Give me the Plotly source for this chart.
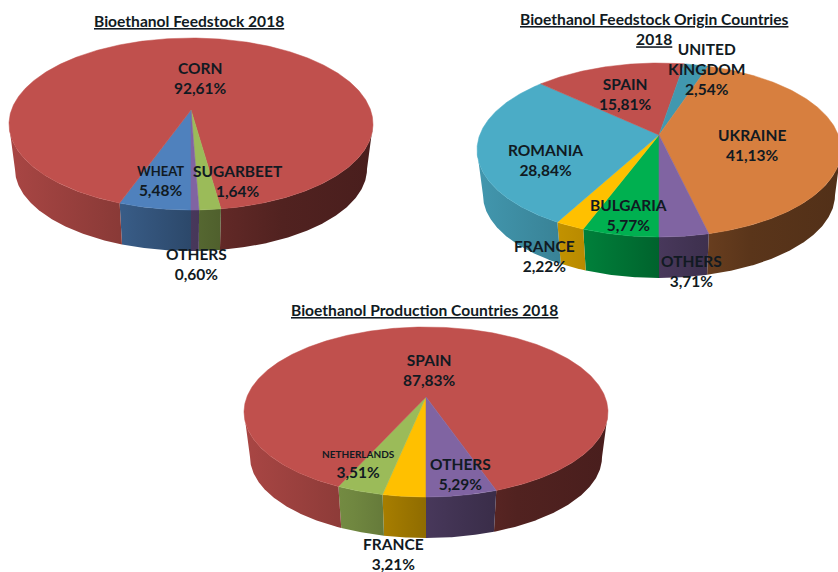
import math
import plotly.graph_objects as go

# ---- data -------------------------------------------------------------
feedstock_names = ["WHEAT", "CORN", "SUGARBEET", "OTHERS"]
feedstock_values = [5.48, 92.61, 1.64, 0.60]

origin_names = ["BULGARIA", "FRANCE", "ROMANIA", "SPAIN", "UNITED<br>KINGDOM", "UKRAINE", "OTHERS"]
origin_values = [5.77, 2.22, 28.84, 15.81, 2.54, 41.13, 3.71]

production_names = ["FRANCE", "NETHERLANDS", "SPAIN", "OTHERS"]
production_values = [3.21, 3.51, 87.83, 5.29]

titles = ["Bioethanol Feedstock 2018",
          "Bioethanol Feedstock Origin Countries<br>2018",
          "Bioethanol Production Countries 2018"]

# ---- styling / layout (pixel space of the 838x572 page) ------------------
RED, BLUE, GREEN, PURPLE = "#C0504D", "#4F81BD", "#9BBB59", "#8064A2"
ORANGE, TEAL, TEAL2, EMERALD, GOLD = "#D77F3F", "#4BACC6", "#4198AF", "#00B050", "#FFC000"

pies = [
    dict(names=feedstock_names, values=feedstock_values, colors=[BLUE, RED, GREEN, PURPLE],
         cx=191, apex=110, ey=124, ry=86,
         pos=[(160, 181), (200, 78), (238, 181), (196, 264)], small={"WHEAT": 13}),
    dict(names=origin_names, values=origin_values,
         colors=[EMERALD, GOLD, TEAL, RED, TEAL2, ORANGE, PURPLE],
         cx=659, apex=135, ey=150, ry=87,
         pos=[(628, 215), (544, 256), (545, 160), (625, 94), (706, 69), (752, 145), (691, 271)], small={}),
    dict(names=production_names, values=production_values, colors=[GOLD, GREEN, RED, PURPLE],
         cx=426, apex=397, ey=412, ry=85,
         pos=[(393, 554), (358, 464), (429, 370), (460, 474)], small={"NETHERLANDS": 10}),
]
title_pos = [(189, 21), (654, 29), (424, 310)]
RX, RX_B, RY_B_DELTA, DEPTH = 182, 176, 4, 45
SHADE = [(0, .88), (.3, .72), (.5, .56), (.6, .5), (.75, .42), (1, .38)]
FONT = "Lato, 'Open Sans', sans-serif"
TEXT = "#111a22"


def shade(hex_color, f):
    r, g, b = (int(hex_color[i:i + 2], 16) for i in (1, 3, 5))
    return f"rgb({r * f:.0f},{g * f:.0f},{b * f:.0f})"


def projector(p):
    """Perspective mapping of the pie's circle onto the drawn ellipse."""
    up = p["apex"] - (p["ey"] - p["ry"])
    down = p["ey"] + p["ry"] - p["apex"]
    c = (down - up) / (down + up)
    a = up * (1 + c)
    d = RX * math.sqrt(1 - c * c)

    def top(phi):
        u, v = math.sin(phi), math.cos(phi)
        return p["cx"] + d * u / (1 + c * v), p["apex"] - a * v / (1 + c * v)

    def bottom(x, y):
        ry_b = p["ry"] - RY_B_DELTA
        return p["cx"] + (x - p["cx"]) * RX_B / RX, p["ey"] + DEPTH + (y - p["ey"]) * ry_b / p["ry"]

    return top, bottom


def front_runs(rim, ey):
    """Contiguous stretches of the rim that face the viewer."""
    runs, cur = [], []
    for q in rim:
        if q[1] >= ey:
            cur.append(q)
        elif cur:
            runs.append(cur)
            cur = []
    if cur:
        runs.append(cur)
    return [r for r in runs if len(r) >= 2]


fig = go.Figure()
top_traces = []
annotations = []

for p in pies:
    top, bottom = projector(p)
    total = sum(p["values"])
    angle = 180.0
    for name, value, color, (lx, ly) in zip(p["names"], p["values"], p["colors"], p["pos"]):
        sweep = value / total * 360
        n = max(2, int(sweep * 2))
        rim = [top(math.radians(angle + sweep * i / n)) for i in range(n + 1)]
        angle += sweep

        # top face of the slice
        xs = [p["cx"]] + [q[0] for q in rim] + [p["cx"]]
        ys = [p["apex"]] + [q[1] for q in rim] + [p["apex"]]
        top_traces.append(go.Scatter(x=xs, y=ys, mode="lines", fill="toself", fillcolor=color,
                                     line=dict(color=color, width=0.5), hoverinfo="skip", showlegend=False))

        # outer wall: only the parts of the rim facing the viewer
        for front in front_runs(rim, p["ey"]):
            low = [bottom(*q) for q in reversed(front)]
            wx = [q[0] for q in front] + [q[0] for q in low] + [front[0][0]]
            wy = [q[1] for q in front] + [q[1] for q in low] + [front[0][1]]
            scale = [[s, shade(color, f)] for s, f in SHADE]
            fig.add_trace(go.Scatter(x=wx, y=wy, mode="lines", line=dict(width=0), fill="toself",
                                     fillgradient=dict(type="horizontal", colorscale=scale,
                                                       start=p["cx"] - RX, stop=p["cx"] + RX),
                                     hoverinfo="skip", showlegend=False))

        # slice label
        pct = f"{value:.2f}".replace(".", ",") + "%"
        head = name
        if name in p["small"]:
            head = f"<span style='font-size:{p['small'][name]}px'>{name}</span>"
        annotations.append(dict(x=lx, y=ly, xref="x", yref="y", showarrow=False,
                                text=f"{head}<br>{pct}", align="center",
                                font=dict(family=FONT, size=15.5, color=TEXT, weight="bold")))

fig.add_traces(top_traces)

for text, (tx, ty) in zip(titles, title_pos):
    annotations.append(dict(x=tx, y=ty, xref="x", yref="y", showarrow=False, text=text, align="center",
                            font=dict(family=FONT, size=15.6, color=TEXT, weight="bold", lineposition="under")))

fig.update_layout(
    width=838, height=572, margin=dict(l=0, r=0, t=0, b=0),
    paper_bgcolor="white", plot_bgcolor="white", showlegend=False,
    xaxis=dict(range=[0, 838], visible=False, fixedrange=True),
    yaxis=dict(range=[572, 0], visible=False, fixedrange=True),
    annotations=annotations,
)
fig.write_html("out.html", config=dict(displayModeBar=False),
               post_script="document.body.style.margin='0';")
